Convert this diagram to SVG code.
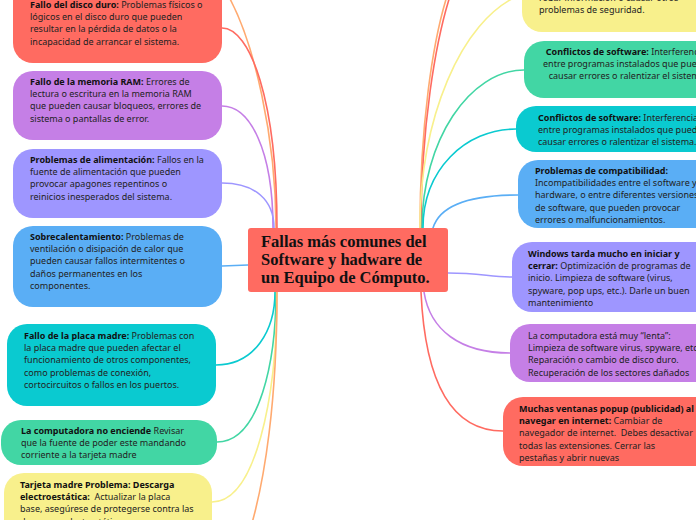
<svg xmlns="http://www.w3.org/2000/svg" width="696" height="520" viewBox="0 0 696 520">
<style>
.t{font-family:"Noto Sans","Open Sans","DejaVu Sans",sans-serif;font-size:9px;fill:#222;white-space:pre}
.b{font-weight:bold;fill:#111}
.c{fill:none;stroke-width:1.6;stroke-linecap:round}
.title{font-family:"Liberation Serif","Times New Roman",serif;font-weight:bold;font-size:16.5px;fill:#111}
</style>
<rect width="696" height="520" fill="#fff"/>
<g id="connectors">
<path class="c" stroke="#FFAA70" d="M276,228 C276,140 255,40 225,-10"/>
<path class="c" stroke="#FF6B61" d="M222,28 C250,28 277,100 277,228"/>
<path class="c" stroke="#C57FE6" d="M222,106 C250,106 273,150 273,228"/>
<path class="c" stroke="#9E96FF" d="M222,183 C255,183 274,200 274,228"/>
<path class="c" stroke="#5AAEF5" d="M222,266 L248,265"/>
<path class="c" stroke="#0ACAD0" d="M216,365 C255,365 275,330 275,292"/>
<path class="c" stroke="#42D6A4" d="M217,442 C260,442 276,360 276,292"/>
<path class="c" stroke="#F8F08C" d="M212,502 C255,502 277,400 277,292"/>
<path class="c" stroke="#FFAA70" d="M277,292 C277,400 265,480 250,530"/>
<path class="c" stroke="#FFAA70" d="M420,228 C420,130 432,40 449,-10"/>
<path class="c" stroke="#FF6B61" d="M421,228 C421,130 435,40 452,-10"/>
<path class="c" stroke="#F8F08C" d="M420,228 C420,120 460,20 520,-5"/>
<path class="c" stroke="#42D6A4" d="M524,70 C470,70 422,140 422,228"/>
<path class="c" stroke="#0ACAD0" d="M516,129 C465,129 423,170 423,228"/>
<path class="c" stroke="#5AAEF5" d="M518,195 C470,195 440,205 433,228"/>
<path class="c" stroke="#9E96FF" d="M448,273 C480,273 490,277 512,277"/>
<path class="c" stroke="#C57FE6" d="M424,292 C430,330 460,353 510,353"/>
<path class="c" stroke="#FF6B61" d="M421,292 C425,380 450,431 503,431"/>
</g>
<g id="center">
<rect x="248" y="228" width="200" height="64" rx="3" fill="#FF6B61"/>
<text class="title" x="261" y="247">Fallas más comunes del</text>
<text class="title" x="261" y="265">Software y hadware de</text>
<text class="title" x="261" y="283">un Equipo de Cómputo.</text>
</g>
<g id="disco">
<rect x="13" y="-20" width="209" height="83" rx="20" fill="#FF6B61"/>
<text class="t" x="30" y="8"><tspan class="b">Fallo del disco duro:</tspan> Problemas físicos o<tspan x="30" dy="12.2">lógicos en el disco duro que pueden</tspan><tspan x="30" dy="12.2">resultar en la pérdida de datos o la</tspan><tspan x="30" dy="12.2">incapacidad de arrancar el sistema.</tspan></text>
</g>
<g id="ram">
<rect x="13" y="71" width="209" height="69" rx="20" fill="#C57FE6"/>
<text class="t" x="30" y="85"><tspan class="b">Fallo de la memoria RAM:</tspan> Errores de<tspan x="30" dy="12.2">lectura o escritura en la memoria RAM</tspan><tspan x="30" dy="12.2">que pueden causar bloqueos, errores de</tspan><tspan x="30" dy="12.2">sistema o pantallas de error.</tspan></text>
</g>
<g id="alimentacion">
<rect x="13" y="149" width="209" height="69" rx="20" fill="#9E96FF"/>
<text class="t" x="30" y="163"><tspan class="b">Problemas de alimentación:</tspan> Fallos en la<tspan x="30" dy="12.2">fuente de alimentación que pueden</tspan><tspan x="30" dy="12.2">provocar apagones repentinos o</tspan><tspan x="30" dy="12.2">reinicios inesperados del sistema.</tspan></text>
</g>
<g id="sobrecalentamiento">
<rect x="13" y="226" width="209" height="81" rx="20" fill="#5AAEF5"/>
<text class="t" x="30" y="240"><tspan class="b">Sobrecalentamiento:</tspan> Problemas de<tspan x="30" dy="12.2">ventilación o disipación de calor que</tspan><tspan x="30" dy="12.2">pueden causar fallos intermitentes o</tspan><tspan x="30" dy="12.2">daños permanentes en los</tspan><tspan x="30" dy="12.2">componentes.</tspan></text>
</g>
<g id="placa">
<rect x="7" y="324" width="209" height="82" rx="20" fill="#0ACAD0"/>
<text class="t" x="24" y="339"><tspan class="b">Fallo de la placa madre:</tspan> Problemas con<tspan x="24" dy="12.2">la placa madre que pueden afectar el</tspan><tspan x="24" dy="12.2">funcionamiento de otros componentes,</tspan><tspan x="24" dy="12.2">como problemas de conexión,</tspan><tspan x="24" dy="12.2">cortocircuitos o fallos en los puertos.</tspan></text>
</g>
<g id="noenciende">
<rect x="1" y="420" width="216" height="45" rx="20" fill="#42D6A4"/>
<text class="t" x="21" y="434"><tspan class="b">La computadora no enciende</tspan> Revisar<tspan x="21" dy="12.2">que la fuente de poder este mandando</tspan><tspan x="21" dy="12.2">corriente a la tarjeta madre</tspan></text>
</g>
<g id="tarjeta">
<rect x="4" y="473" width="208" height="80" rx="20" fill="#F8F08C"/>
<text class="t" x="20" y="488"><tspan class="b">Tarjeta madre Problema: Descarga</tspan><tspan x="20" dy="12.2" class="b">electroestática:</tspan>  Actualizar la placa<tspan x="20" dy="12.2">base, asegúrese de protegerse contra las</tspan><tspan x="20" dy="12.2">descargas electrostáticas.</tspan></text>
</g>
<g id="seguridad">
<rect x="522" y="-50" width="220" height="82" rx="20" fill="#F8F08C"/>
<text class="t" x="539" y="0.5">robar información o causar otros<tspan x="539" dy="12.2">problemas de seguridad.</tspan></text>
</g>
<g id="conflictos1">
<rect x="524" y="41" width="220" height="57" rx="20" fill="#42D6A4"/>
<text class="t" x="628" y="55" text-anchor="middle"><tspan class="b">Conflictos de software:</tspan> Interferencias<tspan x="628" dy="12.2">entre programas instalados que pueden</tspan><tspan x="628" dy="12.2">causar errores o ralentizar el sistema.</tspan></text>
</g>
<g id="conflictos2">
<rect x="516" y="106" width="220" height="46" rx="20" fill="#0ACAD0"/>
<text class="t" x="538" y="121"><tspan class="b">Conflictos de software:</tspan> Interferencias<tspan x="538" dy="12.2">entre programas instalados que pueden</tspan><tspan x="538" dy="12.2">causar errores o ralentizar el sistema.</tspan></text>
</g>
<g id="compatibilidad">
<rect x="518" y="160" width="220" height="68" rx="20" fill="#5AAEF5"/>
<text class="t" x="535" y="174"><tspan class="b">Problemas de compatibilidad:</tspan><tspan x="535" dy="12.2">Incompatibilidades entre el software y el</tspan><tspan x="535" dy="12.2">hardware, o entre diferentes versiones</tspan><tspan x="535" dy="12.2">de software, que pueden provocar</tspan><tspan x="535" dy="12.2">errores o malfuncionamientos.</tspan></text>
</g>
<g id="windows">
<rect x="512" y="242" width="220" height="70" rx="20" fill="#9E96FF"/>
<text class="t" x="528" y="257"><tspan class="b">Windows tarda mucho en iniciar y</tspan><tspan x="528" dy="12.2" class="b">cerrar:</tspan> Optimización de programas de<tspan x="528" dy="12.2">inicio. Limpieza de software (virus,</tspan><tspan x="528" dy="12.2">spyware, pop ups, etc.). Darle un buen</tspan><tspan x="528" dy="12.2">mantenimiento</tspan></text>
</g>
<g id="lenta">
<rect x="510" y="324" width="220" height="58" rx="20" fill="#C57FE6"/>
<text class="t" x="528" y="339">La computadora está muy “lenta”:<tspan x="528" dy="12.2">Limpieza de software virus, spyware, etc.</tspan><tspan x="528" dy="12.2">Reparación o cambio de disco duro.</tspan><tspan x="528" dy="12.2">Recuperación de los sectores dañados</tspan></text>
</g>
<g id="popup">
<rect x="503" y="397" width="220" height="69" rx="20" fill="#FF6B61"/>
<text class="t" x="519" y="412"><tspan class="b">Muchas ventanas popup (publicidad) al</tspan><tspan x="519" dy="12.2" class="b">navegar en internet:</tspan> Cambiar de<tspan x="519" dy="12.2">navegador de internet.  Debes desactivar</tspan><tspan x="519" dy="12.2">todas las extensiones. Cerrar las</tspan><tspan x="519" dy="12.2">pestañas y abrir nuevas</tspan></text>
</g>
</svg>
